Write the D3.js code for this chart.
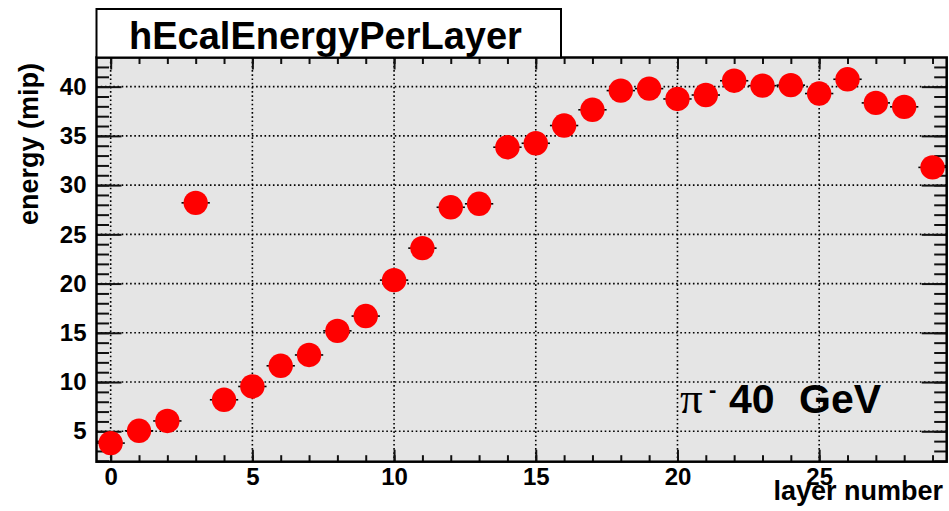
<!DOCTYPE html>
<html>
<head>
<meta charset="utf-8">
<script src="https://cdn.jsdelivr.net/npm/d3@7"></script>
<style>
  html, body { margin: 0; padding: 0; background: #fff; }
  svg { display: block; }
  text { font-family: "Liberation Sans", Arial, Helvetica, sans-serif; font-weight: bold; fill: #000; }
</style>
</head>
<body>
<svg id="chart" width="949" height="511"></svg>
<script>
// Layer index (histogram bins -0.5 .. 29.5)
const layers = [0, 1, 2, 3, 4, 5, 6, 7, 8, 9, 10, 11, 12, 13, 14,
                15, 16, 17, 18, 19, 20, 21, 22, 23, 24, 25, 26, 27, 28, 29];
// Mean deposited energy per layer (mip)
const energy = [3.8, 5.05, 6.05, 28.2, 8.2, 9.55, 11.65, 12.75, 15.2, 16.7,
                20.35, 23.6, 27.75, 28.1, 33.85, 34.25, 36.05, 37.65, 39.6, 39.8,
                38.75, 39.15, 40.6, 40.1, 40.15, 39.3, 40.75, 38.35, 37.95, 31.8];
const xMajorTicks = [0, 5, 10, 15, 20, 25];
const yMajorTicks = [5, 10, 15, 20, 25, 30, 35, 40];
const xMinorTicks = d3.range(0, 30, 1);
const yMinorTicks = d3.range(2, 43, 1);
const xDomain = [-0.5, 29.5];
const yDomain = [1.91, 42.96];

const svg = d3.select("#chart");
const frame = { left: 96.5, right: 946.7, top: 57.5, bottom: 461.7 };

const x = d3.scaleLinear().domain(xDomain).range([frame.left, frame.right]);
const y = d3.scaleLinear().domain(yDomain).range([frame.bottom, frame.top]);

// Frame background
svg.append("rect")
  .attr("x", frame.left).attr("y", frame.top)
  .attr("width", frame.right - frame.left).attr("height", frame.bottom - frame.top)
  .attr("fill", "#e5e5e5");

// Dotted grid at major ticks
const grid = svg.append("g").attr("stroke", "#000").attr("stroke-width", 1.6)
  .attr("stroke-dasharray", "1.6,2.6");
grid.selectAll(".gx").data(xMajorTicks).join("line")
  .attr("x1", d => x(d)).attr("x2", d => x(d))
  .attr("y1", frame.top).attr("y2", frame.bottom);
grid.selectAll(".gy").data(yMajorTicks).join("line")
  .attr("x1", frame.left).attr("x2", frame.right)
  .attr("y1", d => y(d)).attr("y2", d => y(d));

// Tick lengths (inside the frame)
const xMajorLen = 12, xMinorLen = 6.5, yMajorLen = 25, yMinorLen = 12.5;

function styleAxis(g) {
  g.select(".domain").remove();
  g.selectAll(".tick line").attr("stroke", "#111").attr("stroke-width", 2);
  g.selectAll(".tick text").attr("font-size", 24).attr("font-family", null);
}

// Bottom axis: minor then major with labels
svg.append("g").attr("transform", `translate(0,${frame.bottom})`)
  .call(d3.axisBottom(x).tickValues(xMinorTicks).tickSize(-xMinorLen).tickFormat(""))
  .call(styleAxis);
svg.append("g").attr("transform", `translate(0,${frame.bottom})`)
  .call(d3.axisBottom(x).tickValues(xMajorTicks).tickSize(-xMajorLen).tickPadding(6).tickFormat(d3.format("d")))
  .call(styleAxis);
// Top axis ticks
svg.append("g").attr("transform", `translate(0,${frame.top})`)
  .call(d3.axisTop(x).tickValues(xMinorTicks).tickSize(-xMinorLen).tickFormat(""))
  .call(styleAxis);
svg.append("g").attr("transform", `translate(0,${frame.top})`)
  .call(d3.axisTop(x).tickValues(xMajorTicks).tickSize(-xMajorLen).tickFormat(""))
  .call(styleAxis);
// Left axis
svg.append("g").attr("transform", `translate(${frame.left},0)`)
  .call(d3.axisLeft(y).tickValues(yMinorTicks).tickSize(-yMinorLen).tickFormat(""))
  .call(styleAxis);
svg.append("g").attr("transform", `translate(${frame.left},0)`)
  .call(d3.axisLeft(y).tickValues(yMajorTicks).tickSize(-yMajorLen).tickPadding(10).tickFormat(d3.format("d")))
  .call(styleAxis);
// Right axis ticks
svg.append("g").attr("transform", `translate(${frame.right},0)`)
  .call(d3.axisRight(y).tickValues(yMinorTicks).tickSize(-yMinorLen).tickFormat(""))
  .call(styleAxis);
svg.append("g").attr("transform", `translate(${frame.right},0)`)
  .call(d3.axisRight(y).tickValues(yMajorTicks).tickSize(-yMajorLen).tickFormat(""))
  .call(styleAxis);

// Horizontal error bars (bin half-width)
svg.append("g").selectAll("line").data(layers).join("line")
  .attr("x1", (d) => x(d - 0.5)).attr("x2", (d) => x(d + 0.5))
  .attr("y1", (d, i) => y(energy[i])).attr("y2", (d, i) => y(energy[i]))
  .attr("stroke", "#000").attr("stroke-width", 1.6);

// Markers
svg.append("g").selectAll("circle").data(layers).join("circle")
  .attr("cx", d => x(d))
  .attr("cy", (d, i) => y(energy[i]))
  .attr("r", 12.2)
  .attr("fill", "#ff0000");

// Frame border
svg.append("rect")
  .attr("x", frame.left).attr("y", frame.top)
  .attr("width", frame.right - frame.left).attr("height", frame.bottom - frame.top)
  .attr("fill", "none").attr("stroke", "#000").attr("stroke-width", 2.5);

// Title box
svg.append("rect")
  .attr("x", 96.5).attr("y", 9)
  .attr("width", 464.5).attr("height", frame.top - 9)
  .attr("fill", "#fff").attr("stroke", "#000").attr("stroke-width", 2);
svg.append("text")
  .attr("x", 129).attr("y", 49)
  .attr("font-size", 38)
  .text("hEcalEnergyPerLayer");

// Axis titles
svg.append("text")
  .attr("transform", "translate(38,63) rotate(-90)")
  .attr("text-anchor", "end")
  .attr("font-size", 27)
  .text("energy (mip)");
svg.append("text")
  .attr("x", 943).attr("y", 500)
  .attr("text-anchor", "end")
  .attr("font-size", 27)
  .text("layer number");

// Beam label: pi-minus, 40 GeV
const beam = svg.append("g");
beam.append("text")
  .attr("x", 680).attr("y", 413)
  .attr("font-size", 45)
  .style("font-family", "'Liberation Serif', 'DejaVu Serif', serif")
  .style("font-weight", "normal")
  .text("π");
beam.append("text")
  .attr("x", 709).attr("y", 397)
  .attr("font-size", 22)
  .text("-");
beam.append("text")
  .attr("x", 729).attr("y", 413)
  .attr("font-size", 41)
  .text("40");
beam.append("text")
  .attr("x", 799).attr("y", 413)
  .attr("font-size", 41)
  .text("GeV");
</script>
</body>
</html>
